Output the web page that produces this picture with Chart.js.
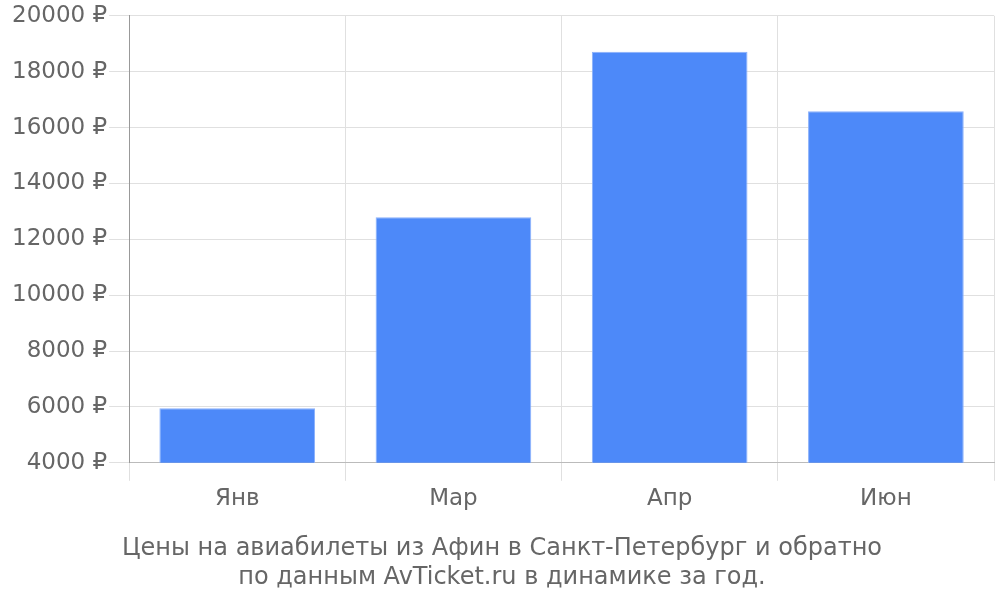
<!DOCTYPE html>
<html>
<head>
<meta charset="utf-8">
<script src="https://cdn.jsdelivr.net/npm/chart.js@4/dist/chart.umd.min.js"></script>
<style>
  html, body { margin: 0; padding: 0; background: #fff; }
  #wrap { width: 1000px; height: 600px; }
</style>
</head>
<body>
<div id="wrap"><canvas id="priceChart"></canvas></div>
<script>
const months = ['Янв', 'Мар', 'Апр', 'Июн'];
const prices = [5950, 12790, 18710, 16580];
const titleLines = [
  'Цены на авиабилеты из Афин в Санкт-Петербург и обратно',
  'по данным AvTicket.ru в динамике за год.'
];

Chart.defaults.font.family = '"DejaVu Sans", sans-serif';
Chart.defaults.color = '#666';

new Chart(document.getElementById('priceChart').getContext('2d'), {
  type: 'bar',
  data: {
    labels: months,
    datasets: [
      {
        data: prices,
        backgroundColor: '#4d89f9',
        borderColor: '#8ab0fb',
        borderWidth: 1,
      },
    ],
  },
  options: {
    responsive: true,
    maintainAspectRatio: false,
    animation: false,
    layout: { padding: { right: 6, top: 0, left: 10 } },
    scales: {
      x: {
        grid: { color: '#e0e0e0', tickLength: 18, offset: true },
        border: { color: '#bbb' },
        ticks: { font: { size: 23 }, padding: 4 },
      },
      y: {
        min: 4000,
        max: 20000,
        grid: { color: '#e0e0e0', tickLength: 20 },
        border: { color: '#999' },
        ticks: {
          stepSize: 2000,
          font: { size: 23 },
          padding: 2,
          callback: (v) => v + ' ₽',
        },
      },
    },
    plugins: {
      legend: { display: false },
      tooltip: { enabled: false },
      title: {
        display: true,
        position: 'bottom',
        text: titleLines,
        font: { size: 24, weight: 'normal', lineHeight: 1.2 },
        color: '#666',
        padding: { top: 18, bottom: 8 },
      },
    },
  },
});
</script>
</body>
</html>
